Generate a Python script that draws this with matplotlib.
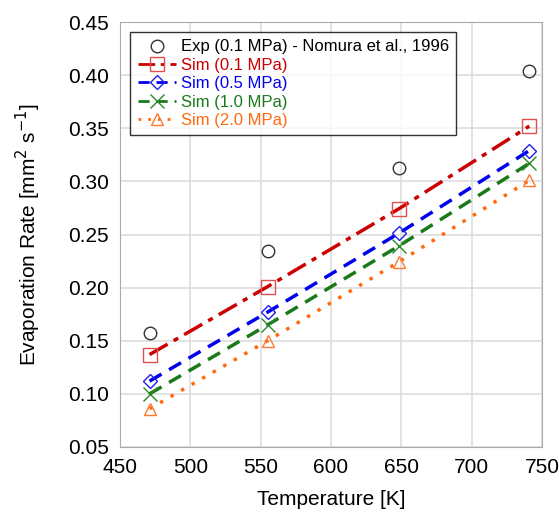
import numpy as np
import matplotlib.pyplot as plt

plt.rcParams['font.family'] = ['Liberation Sans', 'DejaVu Sans']

# temperatures [K]
temp = [471, 555, 648, 741]

# evaporation rates [mm^2/s]
exp_01 = [0.157, 0.234, 0.313, 0.404]
sim_01 = [0.137, 0.201, 0.274, 0.352]
sim_05 = [0.112, 0.177, 0.251, 0.329]
sim_10 = [0.100, 0.165, 0.239, 0.317]
sim_20 = [0.086, 0.150, 0.224, 0.301]

fig = plt.figure(figsize=(5.59, 5.15), dpi=100)
ax = fig.add_axes([120 / 559, 1 - 447 / 515, 422 / 559, 425 / 515])

ax.plot(temp, exp_01, 'o', ms=9, mfc='none', mec='#333333', mew=1.0,
        label='Exp (0.1 MPa) - Nomura et al., 1996')
ax.plot(temp, sim_01, color='#cc0000', ls=(0, (6, 2, 1.5, 2)), lw=2.5,
        marker='s', ms=10, mfc='none', mec='#e05050', mew=1.0, label='Sim (0.1 MPa)')
ax.plot(temp, sim_05, color='#0000ee', ls=(0, (4, 2.5)), lw=2.5,
        marker='D', ms=7, mfc='none', mec='#2020ee', mew=1.0, label='Sim (0.5 MPa)')
ax.plot(temp, sim_10, color='#1a7a1a', ls=(0, (4, 2.5)), lw=2.5,
        marker='x', ms=10, mec='#2a8a2a', mew=1.0, label='Sim (1.0 MPa)')
ax.plot(temp, sim_20, color='#ff6a10', ls=(0, (1, 2.5)), lw=2.5,
        marker='^', ms=9, mfc='none', mec='#ff7a30', mew=1.0, label='Sim (2.0 MPa)')

ax.set_xlim(450, 750)
ax.set_ylim(0.05, 0.45)
ax.set_xticks(np.arange(450, 751, 50))
ax.set_yticks(np.arange(0.05, 0.451, 0.05))
ax.yaxis.set_major_formatter(plt.FormatStrFormatter('%.2f'))
ax.grid(True, color='#dddddd', lw=1.2)
ax.set_axisbelow(True)
for s in ax.spines.values():
    s.set_color('#aaaaaa')
ax.tick_params(direction='in', length=0, labelsize=15, pad=8)

ax.set_xlabel('Temperature [K]', fontsize=15, labelpad=9)
ax.set_ylabel(r'Evaporation Rate [mm$^2$ s$^{-1}$]', fontsize=15, labelpad=18)

leg = ax.legend(loc='upper left', fontsize=12, frameon=True, fancybox=False,
                edgecolor='black', borderpad=0.45, labelspacing=0.2,
                handlelength=2.3, handletextpad=0.3, borderaxespad=0.6)
leg.get_frame().set_linewidth(1.0)
for line in leg.get_lines():
    line.set_linewidth(2.0)
for txt, c in zip(leg.get_texts(), ['black', '#cc0000', '#0000ee', '#1a7a1a', '#ff6a10']):
    txt.set_color(c)

fig.savefig('out.png', dpi=100)
